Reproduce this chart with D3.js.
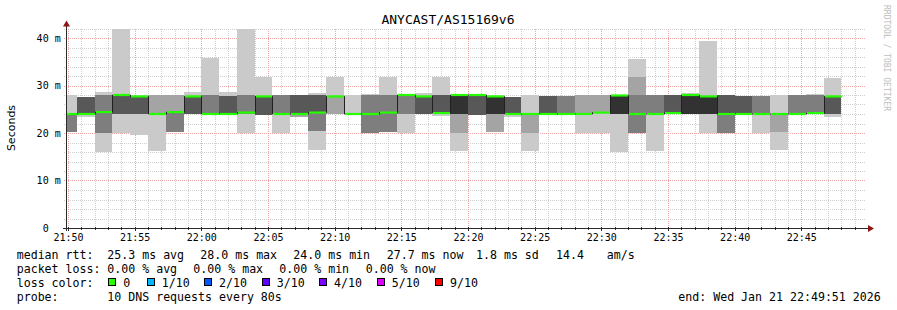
<!DOCTYPE html>
<html><head><meta charset="utf-8">
<script src="https://cdn.jsdelivr.net/npm/d3@7"></script>
<style>
body{margin:0;background:#fff;overflow:hidden}
text{font-family:"DejaVu Sans Mono",monospace;fill:#000}
</style></head><body>
<svg id="c" width="897" height="310"></svg>
<script>
// ---------------- data ----------------
const title = "ANYCAST/AS15169v6";
const yLabel = "Seconds";
const watermark = "RRDTOOL / TOBI OETIKER";
const rangeStart = "21:49:51", rangeEnd = "22:49:51";
const stepSeconds = 80;
const binStart = ["21:49:20","21:50:40","21:52:00","21:53:20","21:54:40","21:56:00","21:57:20","21:58:40",
  "22:00:00","22:01:20","22:02:40","22:04:00","22:05:20","22:06:40","22:08:00","22:09:20","22:10:40",
  "22:12:00","22:13:20","22:14:40","22:16:00","22:17:20","22:18:40","22:20:00","22:21:20","22:22:40",
  "22:24:00","22:25:20","22:26:40","22:28:00","22:29:20","22:30:40","22:32:00","22:33:20","22:34:40",
  "22:36:00","22:37:20","22:38:40","22:40:00","22:41:20","22:42:40","22:44:00","22:45:20","22:46:40"];
// 10 sorted ping RTTs (ms) per step
const pings = [
 [20.3,20.3,20.3,24,24,24,24,24,24,28],
 [23.4,24,24,24,24,24,27.6,27.6,27.6,27.6],
 [16,20,20,24.4,24.4,24.4,24.4,28,28,28.6],
 [20,24,24,24,28,28,28,28,28,42],
 [19.6,24,24,24,27.7,27.7,27.7,27.7,27.7,27.7],
 [16.2,24,24,24,24,24,24,24,27.9,27.9],
 [20.2,20.2,20.2,24.4,24.4,24.4,24.4,24.4,27.9,27.9],
 [24,24,24,24,27.7,27.7,27.7,27.7,27.7,28.6],
 [24,24,24,24,24,24,24,27.9,27.9,35.8],
 [24,24,24,24,24,24,27.7,27.7,27.7,28.6],
 [20,24,24,24.3,24.3,24.3,24.3,27.9,27.9,42],
 [23.8,23.8,23.8,23.8,27.7,27.7,27.7,27.7,27.7,31.8],
 [20,24,24,24,24,24,24,27.9,27.9,27.9],
 [23.4,23.4,24,24,24,24,28,28,28,28],
 [16.4,20.4,20.4,24.3,24.3,24.3,28,28,28,28.4],
 [24,24,27.7,27.7,27.7,27.7,27.7,27.7,27.7,31.8],
 [24,24,24,24,24,24,24,24,24,27.9],
 [20,20,20,24,24,24,24,28,28,28.3],
 [20.3,20.3,20.3,24.3,24.3,24.3,24.3,28,28,31.8],
 [20,24,24,28,28,28,28,28,28,28],
 [24,24,24,24,27.7,27.7,27.7,27.7,27.7,28.4],
 [23.5,24.2,24.2,24.2,24.2,24.2,27.9,27.9,27.9,31.8],
 [16.3,20,24,24,24,28,28,28,28,28],
 [23.8,23.8,23.8,23.8,28,28,28,28,28,28],
 [20.2,20.2,24,24,24,27.7,27.7,27.7,27.7,27.7],
 [23.4,24,24,24,24,24,27.6,27.6,27.6,27.6],
 [16.3,20,24,24,24,24,24,24,24,27.9],
 [24,24,24,24,24,24,27.8,27.8,27.8,27.8],
 [23.8,23.8,23.8,24,24,24,24,27.8,27.8,27.8],
 [20,24,24,24,24,24,24,24,27.9,27.9],
 [20,24.3,24.3,24.3,24.3,24.3,24.3,24.3,27.9,27.9],
 [16,24,24,24,24,27.9,27.9,27.9,27.9,27.9],
 [20,20,20,24,24,24,24,27.9,31.8,35.6],
 [16.3,24,24,24,24,24,24,27.9,27.9,27.9],
 [24.2,24.2,24.2,24.2,24.2,24.2,27.9,27.9,27.9,27.9],
 [24,24,24,24,24,28,28,28,28,28.4],
 [20,24,24,24,24,27.7,27.7,27.7,27.7,39.4],
 [20,20,20,24,24,24,27.9,27.9,27.9,27.9],
 [24,24,24,24,24,24,27.8,27.8,27.8,27.8],
 [20,24,24,24,24,24,24,27.8,27.8,27.8],
 [16.4,20.2,24,24,24,24,24,24,24,27.9],
 [24,24,24,24,24,24,24,27.9,27.9,27.9],
 [24.2,24.2,24.2,24.2,24.2,24.2,24.2,27.9,27.9,28.3],
 [23.3,24,24,24,27.7,27.7,27.7,27.7,27.7,31.6]
];
const median = [24,24,24.4,28,27.7,24,24.4,27.7,24,24,24.3,27.7,24,24,24.3,27.7,24,24,24.3,28,
  27.7,24.2,28,28,27.7,24,24,24,24,24,24.3,27.9,24,24,24.2,28,27.7,24,24,24,24,24,24.2,27.7];
const lossPerStep = median.map(() => 0);
const yMajorTicks = [0,10,20,30,40];
const yMinorTicks = [2,4,6,8,12,14,16,18,22,24,26,28,32,34,36,38,42];
const yMax = 42;
const rttRow = ["median rtt:","25.3 ms avg","28.0 ms max","24.0 ms min","27.7 ms now","1.8 ms sd","14.4","am/s"];
const lossRow = ["packet loss:","0.00 % avg","0.00 % max","0.00 % min","0.00 % now"];
const lossLabels = ["0","1/10","2/10","3/10","4/10","5/10","9/10"];
const lossColors = ["#26ff00","#00b8ff","#0059ff","#5e00ff","#7e00ff","#dd00ff","#ff0000"];
const probeRow = ["probe:","10 DNS requests every 80s","end: Wed Jan 21 22:49:51 2026"];

// ---------------- layout ----------------
const smokeColors = ["#cacaca","#a4a4a4","#7e7e7e","#585858","#323232"];
const L = 66, R = 866, B = 228, T = 28.5;
const svg = d3.select("#c");
const toDate = s => { const [h,m,sec] = s.split(":").map(Number); return new Date(2026,0,21,h,m,sec); };
const x = d3.scaleTime().domain([toDate(rangeStart), toDate(rangeEnd)]).range([L, R]);
const y = d3.scaleLinear().domain([0, yMax]).range([B, T]);

// grid
const grid = svg.append("g").attr("shape-rendering","crispEdges");
const minuteTicks = x.ticks(d3.timeMinute.every(1));
const fiveTicks = x.ticks(d3.timeMinute.every(5));
const isFive = d => d.getMinutes() % 5 === 0;
const minorCol = "#cfcfcf", majorCol = "#eea4a4";
grid.selectAll(".ymin").data(yMinorTicks).join("line")
  .attr("x1", L-2).attr("x2", R).attr("y1", d => Math.round(y(d))+0.5).attr("y2", d => Math.round(y(d))+0.5)
  .attr("stroke",minorCol).attr("stroke-dasharray","1,1");
grid.selectAll(".xmin").data(minuteTicks.filter(d => !isFive(d))).join("line")
  .attr("x1", d => Math.round(x(d))+0.5).attr("x2", d => Math.round(x(d))+0.5).attr("y1", B+2).attr("y2", T)
  .attr("stroke",minorCol).attr("stroke-dasharray","1,1");
grid.selectAll(".ymaj").data(yMajorTicks.filter(d => d > 0)).join("line")
  .attr("x1", L-2).attr("x2", R).attr("y1", d => Math.round(y(d))+0.5).attr("y2", d => Math.round(y(d))+0.5)
  .attr("stroke",majorCol).attr("stroke-dasharray","1,1");
grid.selectAll(".xmaj").data(fiveTicks).join("line")
  .attr("x1", d => Math.round(x(d))+0.5).attr("x2", d => Math.round(x(d))+0.5).attr("y1", B+2).attr("y2", T)
  .attr("stroke",majorCol).attr("stroke-dasharray","1,1");

// smoke
svg.append("defs").append("clipPath").attr("id","plot").append("rect")
  .attr("x", L+1).attr("y", 0).attr("width", R-L-1).attr("height", B);
const plot = svg.append("g").attr("clip-path","url(#plot)");
const bins = binStart.map((s,i) => ({ x0: toDate(s), x1: new Date(toDate(s).getTime()+stepSeconds*1000), p: pings[i], m: median[i], loss: lossPerStep[i] }));
const smoke = plot.append("g").attr("shape-rendering","crispEdges");
bins.forEach(b => {
  for (let k = 0; k < 5; k++) {
    const lo = b.p[k], hi = b.p[9-k];
    if (hi <= lo) continue;
    smoke.append("rect")
      .attr("x", Math.round(x(b.x0))).attr("width", Math.round(x(b.x1)) - Math.round(x(b.x0)))
      .attr("y", y(hi)).attr("height", y(lo) - y(hi))
      .attr("fill", smokeColors[k]);
  }
});
// median step line (dark) + loss-coloured segments
const stepPts = [];
bins.forEach(b => { stepPts.push([x(b.x0), y(b.m)]); });
stepPts.push([x(bins[bins.length-1].x1), y(bins[bins.length-1].m)]);
plot.append("path").attr("d", d3.line().curve(d3.curveStepAfter)(stepPts.map(p => [Math.round(p[0])+0.5, p[1]])))
  .attr("fill","none").attr("stroke","#202020").attr("stroke-width",1);
plot.selectAll(".med").data(bins).join("line")
  .attr("x1", d => Math.round(x(d.x0))+1).attr("x2", d => Math.round(x(d.x1)))
  .attr("y1", d => y(d.m)).attr("y2", d => y(d.m))
  .attr("stroke", d => lossColors[d.loss]).attr("stroke-width", 2.2);

// axes
const axisCol = "#2a2a2a", arrowCol = "#8e1616";
svg.append("line").attr("x1", L-3).attr("x2", R+3).attr("y1", B+0.5).attr("y2", B+0.5).attr("stroke", axisCol);
svg.append("line").attr("x1", L+0.5).attr("x2", L+0.5).attr("y1", B+3).attr("y2", T-3).attr("stroke", axisCol);
svg.append("path").attr("d", `M${R+2},${B-3}L${R+8},${B+0.5}L${R+2},${B+4}Z`).attr("fill", arrowCol);
svg.append("path").attr("d", `M${L-3},${T-2}L${L+0.5},${T-8}L${L+4},${T-2}Z`).attr("fill", arrowCol);
svg.append("g").selectAll("line").data(minuteTicks).join("line")
  .attr("x1", d => Math.round(x(d))+0.5).attr("x2", d => Math.round(x(d))+0.5)
  .attr("y1", B-1).attr("y2", d => isFive(d) ? B+3 : B+2).attr("stroke", axisCol);

const xAxis = svg.append("g").attr("transform", `translate(0,${B})`)
  .call(d3.axisBottom(x).tickValues(fiveTicks).tickFormat(d3.timeFormat("%H:%M")).tickSize(0).tickPadding(6.3));
xAxis.select(".domain").remove();
xAxis.selectAll("text").attr("font-size", 10).attr("font-family","DejaVu Sans Mono").attr("fill","#000");

const yAxis = svg.append("g").attr("transform", `translate(${L},0)`)
  .call(d3.axisLeft(y).tickValues(yMajorTicks).tickFormat(v => v === 0 ? "0\u00a0\u00a0" : v + "\u00a0m").tickSize(0).tickPadding(5.3));
yAxis.select(".domain").remove();
yAxis.selectAll("text").attr("font-size", 10).attr("font-family","DejaVu Sans Mono").attr("fill","#000");

// title and labels
svg.append("text").attr("x", 448).attr("y", 24).attr("text-anchor","middle").attr("font-size", 13).text(title);
svg.append("text").attr("transform","translate(15,128) rotate(-90)").attr("text-anchor","middle")
  .style("font-family","'DejaVu Sans',sans-serif").attr("font-size", 11).text(yLabel);
svg.append("text").attr("transform","translate(884,5) rotate(90)").attr("font-size", 8)
  .style("fill","#bdbdbd").text(watermark);

// legend
const lf = 11.6;
const legend = svg.append("g").attr("font-size", lf);
const rowY = [258.5, 272.5, 286.8, 300.8];
const rttX = [16.7,107.3,200.3,293.3,386.7,476,556,606.7];
const lossX = [16.7,107.3,193.3,279.3,365.7];
const swatchX = [108.3,146.7,204,261.7,319,376.7,435];
rttRow.forEach((s,i) => legend.append("text").attr("x", rttX[i]).attr("y", rowY[0]).text(s));
lossRow.forEach((s,i) => legend.append("text").attr("x", lossX[i]).attr("y", rowY[1]).text(s));
legend.append("text").attr("x", 16.7).attr("y", rowY[2]).text("loss color:");
lossLabels.forEach((s,i) => {
  const sx = Math.round(swatchX[i]);
  legend.append("rect").attr("x", sx + 0.5).attr("y", 278.5).attr("width", 7).attr("height", 7)
    .attr("fill", lossColors[i]).attr("stroke","#000").attr("stroke-width",1);
  legend.append("text").attr("x", swatchX[i] + 15).attr("y", rowY[2]).text(s);
});
legend.append("text").attr("x", 16.7).attr("y", rowY[3]).text(probeRow[0]);
legend.append("text").attr("x", 107.3).attr("y", rowY[3]).text(probeRow[1]);
legend.append("text").attr("x", 678.3).attr("y", rowY[3]).text(probeRow[2]);
</script>
</body></html>
